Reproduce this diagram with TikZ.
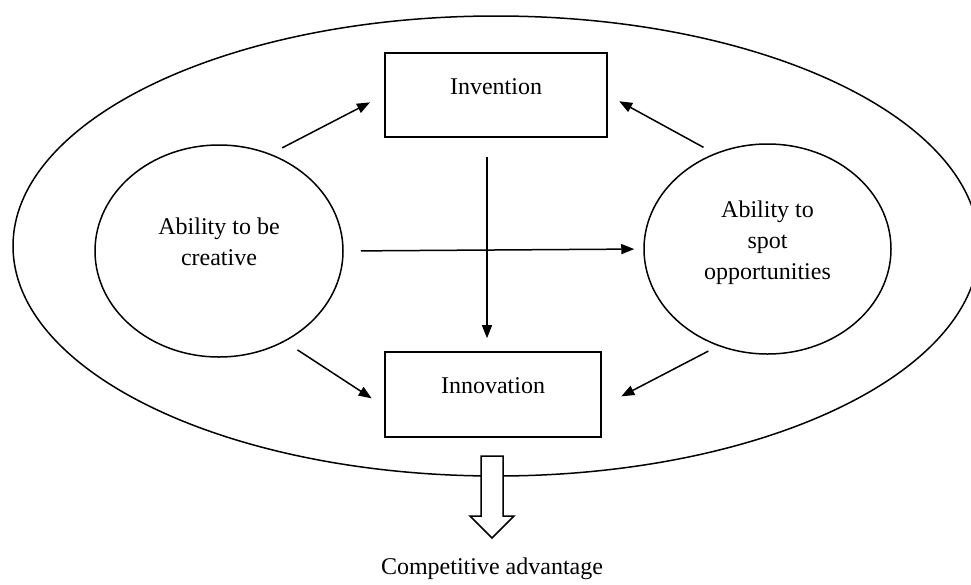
\documentclass[tikz,border=0pt]{standalone}
\usepackage{fontspec}
\setmainfont{Liberation Serif}
\usetikzlibrary{arrows.meta}
\usetikzlibrary{shapes.geometric}
\tikzset{boxnode/.style={rectangle, draw=black, line width=1.6pt, inner sep=0pt},
ovalnode/.style={ellipse, draw=black, line width=1.5pt, inner sep=0pt},
every label/.style={rectangle, draw=none, inner sep=0pt},
link/.style={line width=1.5pt, -{Triangle[length=13pt, width=10pt]}},
hollow/.style={draw=black, fill=white, line width=1.5pt}}

\begin{document}
\begin{tikzpicture}[x=1pt, y=-1pt, every node/.style={font=\fontsize{24}{31}\selectfont}]
\useasboundingbox (0,0) rectangle (971,584);
\clip (0,0) rectangle (971,584);

%%Outer ring
\node[ovalnode, minimum width=966, minimum height=460] (firm) at (496,246) {};

%%Boxes
\node[boxnode, minimum width=222, minimum height=84,
label={[yshift=8.5pt]center:Invention}] (invention) at (496,95) {};
\node[boxnode, minimum width=216, minimum height=85,
label={[yshift=9pt]center:Innovation}] (innovation) at (493,394.5) {};

%%Abilities
\node[ovalnode, minimum width=248, minimum height=212,
label={[align=center, yshift=9.7pt]center:{Ability to be\\creative}}] (creative) at (219,251) {};
\node[ovalnode, minimum width=247, minimum height=210,
label={[align=center, yshift=6.6pt]center:{Ability to\\spot\\opportunities}}] (spot) at (767.5,249) {};

%%Links
\draw[link, shorten <=13pt, shorten >=16pt] (creative.62) -- (invention.west);
\draw[link, shorten <=12.5pt, shorten >=13pt] (spot.119) -- (invention.east);
\draw[link, shorten <=17pt, shorten >=9pt] (creative.east) -- (spot.west);
\draw[link, shorten <=19pt, shorten >=13pt] ([xshift=-9pt]invention.south) -- ([xshift=-6pt]innovation.north);
\draw[link, shorten <=15pt, shorten >=15pt] (creative.-54) -- ([yshift=-12pt]innovation.west);
\draw[link, shorten <=11pt, shorten >=22pt] (spot.243) -- ([yshift=-12pt]innovation.east);

%%Result
\coordinate (gain) at (492,456);
\draw[hollow] (gain) ++(-11,0) -- ++(22,0) -- ++(0,60) -- ++(11,0) -- ++(-22,22) -- ++(-22,-22) -- ++(11,0) -- cycle;
\node[anchor=base] (advantage) at (492,574) {Competitive advantage};

\end{tikzpicture}
\end{document}
